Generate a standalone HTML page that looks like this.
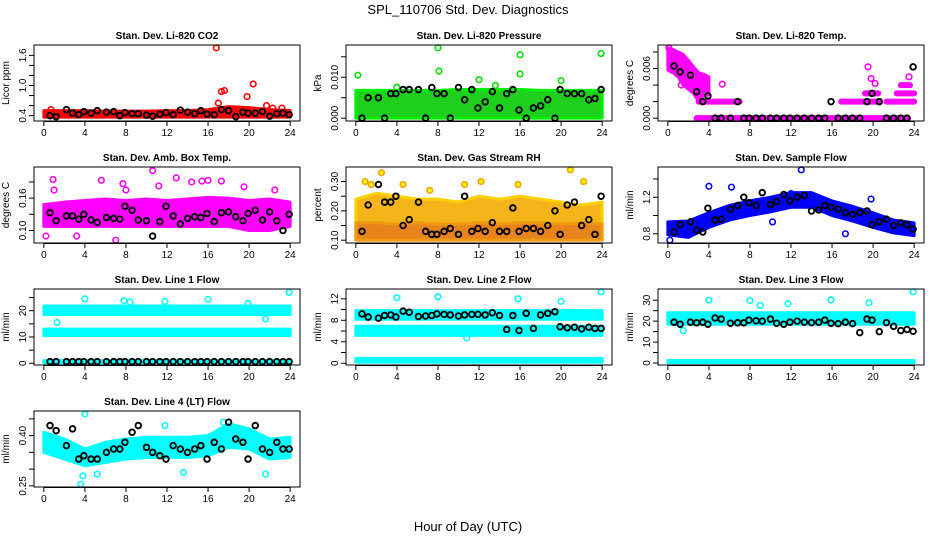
<!DOCTYPE html>
<html><head><meta charset="utf-8"><style>
html,body{margin:0;padding:0;background:#fff;}
svg{display:block;font-family:"Liberation Sans",Arial,sans-serif;}
</style></head><body>
<svg id="c" width="936" height="540" viewBox="0 0 936 540">
<text x="468" y="14" text-anchor="middle" font-size="13">SPL_110706  Std. Dev. Diagnostics</text>
<text x="468" y="531" text-anchor="middle" font-size="13">Hour of Day (UTC)</text>
</svg>
<script>
const blackHours=[0.6,1.2,2.2,2.8,3.4,3.9,4.6,5.2,6.1,6.8,7.4,7.9,8.6,9.2,10.0,10.6,11.3,11.9,12.6,13.3,14.0,14.7,15.3,15.9,16.6,17.3,18.0,18.7,19.4,19.9,20.6,21.3,22.0,22.7,23.3,23.9];
const xTicks=[0,4,8,12,16,20,24];
const bandHours=[0,2,4,6,8,10,12,14,16,18,20,22,24];

// CO2
const co2Lo=[0.37,0.37,0.37,0.37,0.37,0.37,0.37,0.37,0.37,0.37,0.37,0.37,0.37];
const co2Hi=[0.50,0.50,0.50,0.49,0.49,0.49,0.50,0.50,0.52,0.58,0.56,0.52,0.50];
const co2OutX=[16.8,17.3,17.6,20.4,19.8,17.0,21.7,0.7,22.3,23.2];
const co2OutY=[1.75,0.88,0.90,1.03,0.78,0.65,0.60,0.52,0.55,0.55];
const co2Black=[0.40,0.38,0.52,0.45,0.42,0.48,0.45,0.50,0.47,0.48,0.40,0.46,0.44,0.44,0.41,0.39,0.43,0.46,0.42,0.51,0.47,0.44,0.50,0.43,0.42,0.52,0.50,0.38,0.47,0.45,0.45,0.48,0.39,0.44,0.45,0.42];
// Pressure
const presLo=[0,0,0,0,0,0,0,0,0,0,0,0,0];
const presHi=[0.0068,0.0068,0.0068,0.0068,0.0068,0.0070,0.0070,0.0070,0.0070,0.0068,0.0068,0.0068,0.0068];
const presOutX=[0.2,8.0,8.1,16.0,16.0,12.0,20.0,23.9,4.0,13.6];
const presOutY=[0.0105,0.0172,0.0115,0.0155,0.0108,0.0094,0.0092,0.0158,0.0076,0.0080];
const presBlack=[0,0.005,0.0050,0,0.006,0.006,0.007,0.007,0.007,0,0.0075,0.006,0.006,0,0.0075,0.0045,0.007,0.0025,0.004,0.0065,0.0025,0.006,0.007,0.0020,0,0.0025,0.003,0.0045,0,0.007,0.006,0.006,0.006,0.0045,0.0048,0.007];
// Temp
const tempBandX=[0,0.5,1,1.5,2,2.5,3,3.5,4];
const tempLo=[0.0058,0.0055,0.0050,0.0040,0.0035,0.0030,0.0020,0.0028,0.0030];
const tempHi=[0.0085,0.0083,0.0080,0.0077,0.0070,0.0062,0.0055,0.0053,0.0050];
const tempLevelY=[0.002,0.002,0.002,0.003,0.003,0,0.003,0.004];
const tempLevelX0=[3.0,16.9,21.3,19.2,22.3,2.8,19.4,22.7];
const tempLevelX1=[7.0,20.6,24.0,20.5,24.0,23.4,20.2,23.6];
const tempOutX=[19.5,19.8,20.2,23.5,5.3,0.1,0.4,1.3,3.8];
const tempOutY=[0.0062,0.0048,0.0042,0.0050,0.0041,0.0085,0.0058,0.0040,0.0030];
const tempBlack=[0.0063,0.0056,0.0052,0.0032,0.002,0.0027,0,0,0,0.002,0,0,0,0,0,0,0,0,0,0,0,0,0,0.002,0,0,0,0,0.002,0.003,0.002,0,0,0,0,0.0062];
// Amb box
const ambLo=[0.105,0.105,0.105,0.105,0.105,0.105,0.105,0.105,0.105,0.105,0.100,0.100,0.105];
const ambHi=[0.132,0.135,0.137,0.139,0.137,0.139,0.137,0.139,0.141,0.140,0.137,0.139,0.135];
const ambOutX=[0.9,1.0,10.6,5.6,7.7,11.2,12.9,14.4,15.4,16.0,17.3,19.5,22.5,7.0,3.2,0.2,8.0];
const ambOutY=[0.163,0.150,0.174,0.162,0.158,0.155,0.165,0.160,0.161,0.162,0.161,0.154,0.150,0.088,0.093,0.093,0.150];
const ambBlack=[0.122,0.112,0.118,0.118,0.114,0.120,0.113,0.110,0.116,0.115,0.114,0.130,0.125,0.113,0.112,0.093,0.111,0.130,0.118,0.108,0.115,0.117,0.116,0.121,0.111,0.122,0.123,0.117,0.112,0.121,0.125,0.113,0.123,0.112,0.100,0.120];
// RH
const rhLo=[0.10,0.10,0.10,0.10,0.10,0.10,0.10,0.10,0.10,0.10,0.10,0.10,0.10];
const rhHi=[0.24,0.26,0.25,0.24,0.24,0.23,0.25,0.24,0.25,0.24,0.23,0.22,0.23];
const rhCoreHi=[0.16,0.16,0.155,0.16,0.155,0.155,0.16,0.155,0.16,0.16,0.155,0.16,0.155];
const rhOutX=[1.5,2.5,4.6,7.2,10.6,15.8,20.9,22.2,12.2,0.9];
const rhOutY=[0.29,0.33,0.29,0.27,0.29,0.29,0.34,0.30,0.30,0.30];
const rhBlack=[0.13,0.22,0.29,0.23,0.23,0.25,0.15,0.17,0.23,0.13,0.12,0.12,0.13,0.14,0.12,0.25,0.13,0.14,0.13,0.16,0.13,0.13,0.21,0.13,0.14,0.14,0.13,0.15,0.20,0.12,0.22,0.23,0.15,0.17,0.12,0.25];
// Sample flow
const flowMid=[0.86,0.85,0.95,1.03,1.08,1.12,1.17,1.17,1.08,1.02,0.95,0.88,0.85];
const flowHalf=[0.07,0.09,0.08,0.08,0.08,0.08,0.08,0.08,0.08,0.08,0.08,0.07,0.07];
const flowOutX=[0.2,4.0,6.2,12.0,13.0,17.3,19.8,10.2];
const flowOutY=[0.73,1.32,1.31,1.24,1.50,0.80,1.18,0.93];
const flowBlack=[0.82,0.90,0.93,0.84,0.82,1.08,0.95,0.96,1.07,1.11,1.20,1.14,1.11,1.25,1.12,1.15,1.23,1.16,1.20,1.22,1.05,1.06,1.11,1.09,1.07,1.03,1.01,1.03,1.05,0.90,0.93,0.96,0.89,0.92,0.90,0.85];
// Line 1
const l1Bands=[[18.5,21.8],[10.5,13.0],[0.2,1.0]];
const l1OutX=[4.0,7.8,8.4,11.8,16.0,19.9,21.6,23.9,1.3];
const l1OutY=[24.5,23.8,23.3,23.5,24.3,22.8,16.8,27.0,15.5];
const l1Black=[0.6,0.6,0.6,0.6,0.6,0.6,0.6,0.6,0.6,0.6,0.6,0.6,0.6,0.6,0.6,0.6,0.6,0.6,0.6,0.6,0.6,0.6,0.6,0.6,0.6,0.6,0.6,0.6,0.6,0.6,0.6,0.6,0.6,0.6,0.6,0.6];
// Line 2
const l2Bands=[[8.2,9.8],[5.2,6.9],[0.2,0.9]];
const l2OutX=[4.0,8.0,15.8,20.0,23.9,10.8];
const l2OutY=[12.2,12.4,12.0,11.5,13.3,4.7];
const l2Black=[9.2,8.6,8.4,8.9,9.0,8.6,9.7,9.5,8.7,8.8,8.9,9.2,9.1,9.0,8.8,9.0,9.1,9.1,9.0,9.4,8.9,6.3,8.9,6.1,9.3,6.5,9.0,9.3,9.6,6.8,6.6,6.7,6.4,6.7,6.5,6.5];
// Line 3
const l3Bands=[[18.5,24.0],[0.2,1.2]];
const l3OutX=[4.0,8.0,9.0,11.7,15.9,19.6,23.9,1.5];
const l3OutY=[30.0,29.8,27.5,28.3,30.2,28.8,34.0,15.5];
const l3Black=[19.5,18.5,19.5,19.2,19.5,18.5,21.5,21.0,19.0,19.2,19.2,20.5,20.2,20.0,21.0,19.0,18.5,19.5,20.0,19.5,19.3,19.5,20.5,19.0,18.8,19.5,18.8,14.5,21.0,20.5,15.0,19.3,17.5,15.5,16.0,15.2];
// Line 4
const l4Mid=[0.38,0.36,0.335,0.35,0.36,0.365,0.365,0.365,0.37,0.40,0.39,0.36,0.365];
const l4Half=[0.03,0.03,0.025,0.03,0.03,0.03,0.03,0.03,0.03,0.035,0.03,0.03,0.03];
const l4OutX=[4.0,3.6,3.8,5.2,13.6,21.6,11.8,17.5];
const l4OutY=[0.465,0.255,0.28,0.285,0.29,0.285,0.43,0.44];
const l4Black=[0.43,0.415,0.37,0.42,0.33,0.34,0.33,0.33,0.35,0.36,0.36,0.38,0.41,0.43,0.365,0.35,0.34,0.33,0.37,0.36,0.35,0.36,0.37,0.33,0.38,0.36,0.44,0.39,0.38,0.33,0.43,0.36,0.35,0.38,0.36,0.36];

const NS='http://www.w3.org/2000/svg';
const svg=document.getElementById('c');
function el(tag,attrs,parent){const e=document.createElementNS(NS,tag);for(const k in attrs)e.setAttribute(k,attrs[k]);(parent||svg).appendChild(e);return e;}
const colL=[34,346,658],rowT=[45,167,289,411],W=266,H=76;

function panel(col,row,title,ylab,ymin,ymax,yTicks,yLabels,name){
  const L=colL[col],T=rowT[row];
  const g=el('g',{});
  
  
  const xr=24*0.04,yr=(ymax-ymin)*0.04;
  const X=v=>L+(v+xr)/(24+2*xr)*W;
  const Y=v=>T+H-(v-ymin+yr)/(ymax-ymin+2*yr)*H;
  const t=el('text',{x:L+W/2,y:T-6,'text-anchor':'middle','font-size':'10','font-weight':'bold'},g);t.textContent=title;
  
  
  const yl=el('text',{x:0,y:0,transform:`translate(${L-25},${T+H/2}) rotate(-90)`,'text-anchor':'middle','font-size':'10'},g);yl.textContent=ylab;
  
  
  xTicks.forEach(v=>{el('line',{x1:X(v),x2:X(v),y1:T+H,y2:T+H+5,stroke:'#000'},g);
    const tx=el('text',{x:X(v),y:T+H+15,'text-anchor':'middle','font-size':'10'},g);tx.textContent=v;
    
    });
  el('line',{x1:X(0),x2:X(24),y1:T+H+0.5,y2:T+H+0.5,stroke:'#000'},g);
  yTicks.forEach((v,i)=>{el('line',{x1:L-5,x2:L,y1:Y(v),y2:Y(v),stroke:'#000'},g);
    if(yLabels[i]){const ty=el('text',{x:0,y:0,transform:`translate(${L-8},${Y(v)}) rotate(-90)`,'text-anchor':'middle','font-size':'10'},g);ty.textContent=yLabels[i];
    
    }});
  const clip=el('g',{},g);
  el('rect',{x:L,y:T,width:W,height:H,fill:'none',stroke:'#000'},g);
  return {X,Y,g:clip};
}
function band(p,xs,lo,hi,fill,stroke,name){
  let pts=xs.map((x,i)=>p.X(x)+','+p.Y(hi[i]));
  for(let i=xs.length-1;i>=0;i--)pts.push(p.X(xs[i])+','+p.Y(lo[i]));
  const e=el('polygon',{points:pts.join(' '),fill:fill,stroke:stroke,'stroke-width':3,'stroke-linejoin':'round'},p.g);
  
  
}
function pts(p,xs,ys,color,name,fill){
  const sw=color==='#000'?1.9:1.6;
  xs.forEach((x,i)=>{const c=el('circle',{cx:p.X(x),cy:p.Y(ys[i]),r:2.8,fill:fill||'none',stroke:color,'stroke-width':sw},p.g);
    
    });
}
function seg(p,x0,x1,ys,color,name){
  ys.forEach((y,i)=>{const e=el('line',{x1:p.X(x0[i]),x2:p.X(x1[i]),y1:p.Y(y),y2:p.Y(y),stroke:color,'stroke-width':6,'stroke-linecap':'round'},p.g);
    
    });
}
const allH=[0,24];
let p;
p=panel(0,0,'Stan. Dev. Li-820 CO2','Licor ppm',0.35,1.75,[0.4,0.6,0.8,1.0,1.2,1.4,1.6],['0.4','','','1.0','','','1.6'],'co2');
band(p,bandHours,co2Lo,co2Hi,'#f00','#f00','co2-band');pts(p,co2OutX,co2OutY,'#f00','co2-point');pts(p,blackHours,co2Black,'#000','co2-black-point');
p=panel(1,0,'Stan. Dev. Li-820 Pressure','kPa',0,0.0172,[0,0.005,0.010,0.015],['0.000','','0.010',''],'pressure');
band(p,bandHours,presLo,presHi,'#1ecf1e','#00ee00','pressure-band');pts(p,presOutX,presOutY,'#00dd00','pressure-point');pts(p,blackHours,presBlack,'#000','pressure-black-point');
p=panel(2,0,'Stan. Dev. Li-820 Temp.','degrees C',0,0.0085,[0,0.002,0.004,0.006,0.008],['0.000','','','0.006',''],'temp');
band(p,tempBandX,tempLo,tempHi,'#f0f','#f0f','temp-band');seg(p,tempLevelX0,tempLevelX1,tempLevelY,'#f0f','temp-level');pts(p,tempOutX,tempOutY,'#f0f','temp-point');pts(p,blackHours,tempBlack,'#000','temp-black-point');
p=panel(0,1,'Stan. Dev. Amb. Box Temp.','degrees C',0.088,0.175,[0.10,0.12,0.14,0.16],['0.10','','0.16',''],'ambbox');
band(p,bandHours,ambLo,ambHi,'#f0f','#f0f','ambbox-band');pts(p,ambOutX,ambOutY,'#f0f','ambbox-point');pts(p,blackHours,ambBlack,'#000','ambbox-black-point');
p=panel(1,1,'Stan. Dev. Gas Stream RH','percent',0.10,0.34,[0.10,0.15,0.20,0.25,0.30],['0.10','','0.20','','0.30'],'rh');
band(p,bandHours,rhLo,rhHi,'#f4b41a','#ffd000','rh-band');band(p,bandHours,rhLo,rhCoreHi,'#e8841c','#f09a10','rh-core-band');pts(p,rhOutX,rhOutY,'#f4a000','rh-point','#ff0');pts(p,blackHours,rhBlack,'#000','rh-black-point');
p=panel(2,1,'Stan. Dev. Sample Flow','ml/min',0.73,1.50,[0.8,1.0,1.2,1.4],['0.8','','1.2',''],'sampleflow');
band(p,bandHours,flowMid.map((m,i)=>m-flowHalf[i]),flowMid.map((m,i)=>m+flowHalf[i]),'#00f','#00f','sampleflow-band');pts(p,flowOutX,flowOutY,'#00f','sampleflow-point');pts(p,blackHours,flowBlack,'#000','sampleflow-black-point');
p=panel(0,2,'Stan. Dev. Line 1 Flow','ml/min',0.4,27.2,[0,5,10,15,20,25],['0','','10','','20',''],'line1');
l1Bands.forEach(b=>band(p,allH,[b[0],b[0]],[b[1],b[1]],'#0ff','#0ff','line1-band'));pts(p,l1OutX,l1OutY,'#0ff','line1-point');pts(p,blackHours,l1Black,'#000','line1-black-point');
p=panel(1,2,'Stan. Dev. Line 2 Flow','ml/min',0.2,13.3,[0,2,4,6,8,10,12],['0','','4','','8','','12'],'line2');
l2Bands.forEach(b=>band(p,allH,[b[0],b[0]],[b[1],b[1]],'#0ff','#0ff','line2-band'));pts(p,l2OutX,l2OutY,'#0ff','line2-point');pts(p,blackHours,l2Black,'#000','line2-black-point');
p=panel(2,2,'Stan. Dev. Line 3 Flow','ml/min',0.4,34,[0,5,10,15,20,25,30],['0','','10','','20','','30'],'line3');
l3Bands.forEach(b=>band(p,allH,[b[0],b[0]],[b[1],b[1]],'#0ff','#0ff','line3-band'));pts(p,l3OutX,l3OutY,'#0ff','line3-point');pts(p,blackHours,l3Black,'#000','line3-black-point');
p=panel(0,3,'Stan. Dev. Line 4 (LT) Flow','ml/min',0.255,0.465,[0.25,0.30,0.35,0.40,0.45],['0.25','','','0.40',''],'line4');
band(p,bandHours,l4Mid.map((m,i)=>m-l4Half[i]),l4Mid.map((m,i)=>m+l4Half[i]),'#0ff','#0ff','line4-band');pts(p,l4OutX,l4OutY,'#0ff','line4-point');pts(p,blackHours,l4Black,'#000','line4-black-point');
</script>
</body></html>
